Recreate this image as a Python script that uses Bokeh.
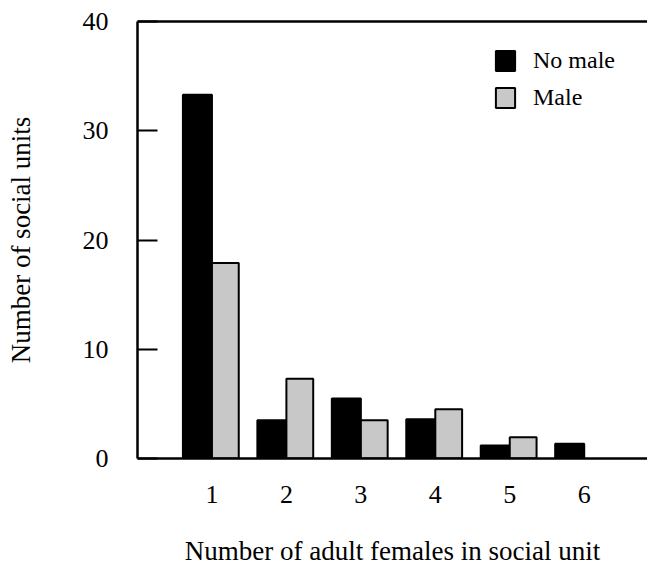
from bokeh.plotting import figure
from bokeh.models import (ColumnDataSource, Legend, LegendItem, LinearAxis,
                          FixedTicker, Range1d)
from bokeh.embed import file_html
from bokeh.resources import INLINE

# ---- data ----
group_sizes = [1, 2, 3, 4, 5, 6]
no_male = [33.3, 3.5, 5.5, 3.6, 1.2, 1.35]
male = [17.9, 7.3, 3.5, 4.5, 1.95, 0]
y_ticks = [0, 10, 20, 30, 40]

FONT = "Liberation Serif"

p = figure(width=647, height=568, output_backend="svg", toolbar_location=None,
           x_range=Range1d(0, 6.85), y_range=Range1d(0, 40),
           min_border_left=137, min_border_right=0, min_border_top=21,
           min_border_bottom=110, x_axis_location="below")
p.grid.visible = False
p.outline_line_color = None
p.background_fill_color = "white"

nm_src = ColumnDataSource(dict(x=[g - 0.195 for g in group_sizes], top=no_male))
m_x = [g + 0.18 for g, v in zip(group_sizes, male) if v > 0]
m_top = [v for v in male if v > 0]
m_src = ColumnDataSource(dict(x=m_x, top=m_top))

r1 = p.vbar(x="x", top="top", width=0.39, bottom=0, source=nm_src,
            fill_color="black", line_color="black", line_width=2)
r2 = p.vbar(x="x", top="top", width=0.36, bottom=0, source=m_src,
            fill_color="#c8c8c8", line_color="black", line_width=2)

# y axis
ya = p.yaxis[0]
ya.ticker = FixedTicker(ticks=y_ticks)
ya.minor_tick_line_color = None
ya.major_tick_in = 20
ya.major_tick_out = 0
ya.major_tick_line_width = 2
ya.axis_line_width = 2.5
ya.major_label_standoff = 29
ya.major_label_text_font = FONT
ya.major_label_text_font_size = "26px"
ya.major_label_text_color = "black"
ya.axis_label = "Number of social units"
ya.axis_label_text_font = FONT
ya.axis_label_text_font_style = "normal"
ya.axis_label_text_font_size = "27px"
ya.axis_label_text_color = "black"
ya.axis_label_standoff = 44

# x axis
xa = p.xaxis[0]
xa.ticker = FixedTicker(ticks=group_sizes)
xa.minor_tick_line_color = None
xa.major_tick_line_color = None
xa.major_tick_in = 0
xa.major_tick_out = 0
xa.axis_line_width = 2.5
xa.major_label_standoff = 27
xa.major_label_text_font = FONT
xa.major_label_text_font_size = "26px"
xa.major_label_text_color = "black"
xa.axis_label = "Number of adult females in social unit"
xa.axis_label_text_font = FONT
xa.axis_label_text_font_style = "normal"
xa.axis_label_text_font_size = "27px"
xa.axis_label_text_color = "black"
xa.axis_label_standoff = 30

# top border line
top_axis = LinearAxis(ticker=FixedTicker(ticks=[]), axis_line_width=2.5,
                      major_tick_line_color=None, minor_tick_line_color=None)
p.add_layout(top_axis, "above")

legend = Legend(items=[LegendItem(label="No male", renderers=[r1]),
                       LegendItem(label="Male", renderers=[r2])],
                location=(356, 347), glyph_width=24, glyph_height=25,
                spacing=10, label_standoff=16, padding=0, margin=0,
                label_text_font=FONT, label_text_font_size="24px",
                label_text_color="black",
                border_line_color=None, background_fill_alpha=0)
p.add_layout(legend)

open("out.html", "w").write(file_html(p, INLINE))
